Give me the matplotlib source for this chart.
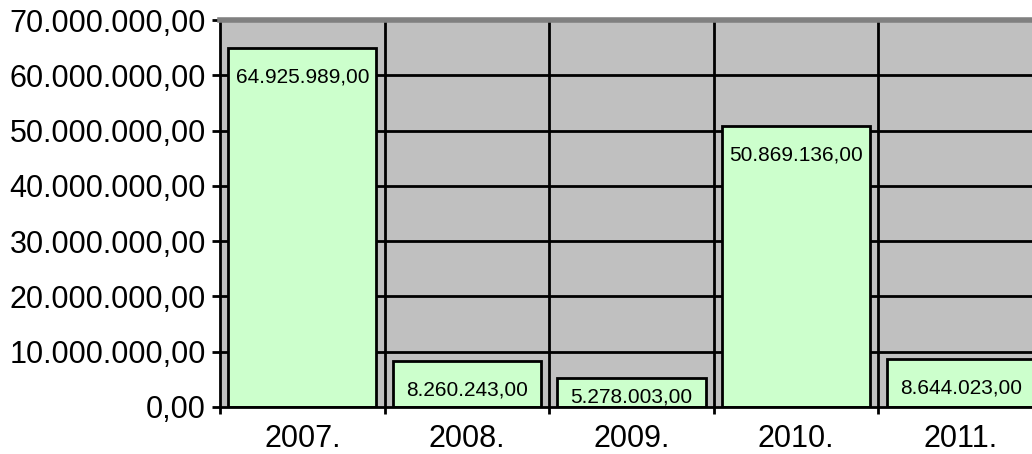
import numpy as np
import matplotlib
matplotlib.use("Agg")
import matplotlib.pyplot as plt
from matplotlib.ticker import FixedLocator, NullFormatter

plt.rcParams['font.family'] = ['Liberation Sans', 'DejaVu Sans']

years = ['2007.', '2008.', '2009.', '2010.', '2011.']
values = [64925989.00, 8260243.00, 5278003.00, 50869136.00, 8644023.00]
bar_labels = ['64.925.989,00', '8.260.243,00', '5.278.003,00', '50.869.136,00', '8.644.023,00']
y_ticks = [0, 10e6, 20e6, 30e6, 40e6, 50e6, 60e6, 70e6]
y_tick_labels = ['0,00', '10.000.000,00', '20.000.000,00', '30.000.000,00',
                 '40.000.000,00', '50.000.000,00', '60.000.000,00', '70.000.000,00']

fig = plt.figure(figsize=(10.32, 4.54), dpi=100)
ax = fig.add_axes([220/1032, 47/454, 823/1032, 387/454])
ax.set_facecolor('#C0C0C0')

x = np.arange(len(years))
ax.set_xlim(-0.5, len(years) - 0.5)
ax.set_ylim(0, 70e6)

# gridlines
for yt in y_ticks[1:]:
    ax.axhline(yt, color='black', lw=2, zorder=1)
for b in x[:-1] + 0.5:
    ax.axvline(b, color='black', lw=2, zorder=1)

ax.bar(x, values, width=0.9, color='#CCFFCC', edgecolor='black', lw=2, zorder=2)

# labels sit a bit below the bar top, but not lower than the axis allows
px_per_unit = 387 / 70e6
for xi, v, lab in zip(x, values, bar_labels):
    ypos = max(v - 29 / px_per_unit, 10 / px_per_unit)
    t = ax.text(xi, ypos, lab, ha='center', va='center', fontsize=15, zorder=3)
    t.set_clip_on(True)

ax.set_yticks(y_ticks)
ax.set_yticklabels(y_tick_labels, fontsize=22)
ax.tick_params(axis='y', length=6, width=2, pad=4)

ax.set_xticks(x)
ax.set_xticklabels(years, fontsize=22)
ax.tick_params(axis='x', which='major', length=0, pad=12)
ax.xaxis.set_minor_locator(FixedLocator(list(x[:-1] + 0.5) + [-0.5]))
ax.xaxis.set_minor_formatter(NullFormatter())
ax.tick_params(axis='x', which='minor', length=5, width=2)

ax.spines['left'].set_linewidth(2)
ax.spines['bottom'].set_linewidth(2)
ax.spines['right'].set_visible(False)
ax.spines['top'].set_color('#808080')
ax.spines['top'].set_linewidth(4)

fig.savefig('out.png', dpi=100)
